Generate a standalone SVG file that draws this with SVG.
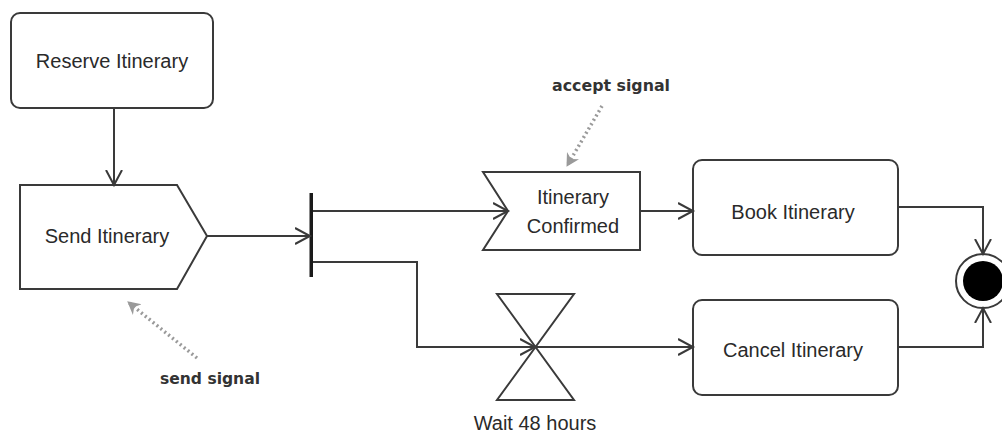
<svg xmlns="http://www.w3.org/2000/svg" width="1002" height="434" viewBox="0 0 1002 434">
  <style>
    .box { fill: #ffffff; stroke: #3a3a3a; stroke-width: 2; }
    .lbl { font-family: "Liberation Sans", Arial, sans-serif; font-size: 20px; fill: #2a2a2a; text-anchor: middle; }
    .note { font-family: "DejaVu Sans", "Liberation Sans", sans-serif; font-weight: bold; font-size: 16px; fill: #333333; }
    .flow { fill: none; stroke: #3a3a3a; stroke-width: 2; marker-end: url(#open); }
    .plain { fill: none; stroke: #3a3a3a; stroke-width: 2; }
    .dot { fill: none; stroke: #9a9a9a; stroke-width: 3.5; stroke-dasharray: 2 3; }
  </style>
  <defs>
    <marker id="open" markerUnits="userSpaceOnUse" markerWidth="22" markerHeight="22" refX="15" refY="9" orient="auto">
      <path d="M0,1 L15,9 L0,17" fill="none" stroke="#3a3a3a" stroke-width="2"/>
    </marker>
    <marker id="grey" markerUnits="userSpaceOnUse" markerWidth="16" markerHeight="16" refX="12" refY="7" orient="auto">
      <path d="M0,0 L13,7 L0,14 L4,7 Z" fill="#9a9a9a"/>
    </marker>
  </defs>
  <rect width="1002" height="434" fill="#ffffff"/>

  <g id="reserve">
    <rect class="box" x="11" y="13" width="202" height="95" rx="9"/>
    <text class="lbl" x="112" y="68">Reserve Itinerary</text>
  </g>
  <g id="send">
    <path class="box" d="M20,185 H177 L207,236 L177,289 H20 Z"/>
    <text class="lbl" x="107" y="243">Send Itinerary</text>
  </g>
  <g id="fork">
    <rect x="309.5" y="193" width="3.5" height="84" fill="#1a1a1a"/>
  </g>
  <g id="confirmed">
    <path class="box" d="M483,172 H640 V250 H483 L508,211 Z"/>
    <text class="lbl" x="573" y="204">Itinerary</text>
    <text class="lbl" x="573" y="233">Confirmed</text>
  </g>
  <g id="wait">
    <path class="plain" d="M497,294 H574 L497,400 H574 Z"/>
    <text class="lbl" x="535" y="430">Wait 48 hours</text>
  </g>
  <g id="book">
    <rect class="box" x="693" y="160" width="205" height="95" rx="9"/>
    <text class="lbl" x="793" y="219">Book Itinerary</text>
  </g>
  <g id="cancel">
    <rect class="box" x="693" y="300" width="205" height="95" rx="9"/>
    <text class="lbl" x="793" y="357">Cancel Itinerary</text>
  </g>
  <g id="final">
    <circle cx="983" cy="281" r="27" fill="#ffffff" stroke="#3a3a3a" stroke-width="2"/>
    <circle cx="983" cy="281" r="20" fill="#000000"/>
  </g>
  <g id="notes">
    <text class="note" x="552" y="91" textLength="118" lengthAdjust="spacingAndGlyphs">accept signal</text>
    <text class="note" x="160" y="384" textLength="100" lengthAdjust="spacingAndGlyphs">send signal</text>
  </g>

  <g id="connectors">
    <path class="flow" d="M114,108 V185"/>
    <path class="flow" d="M207,236 H310"/>
    <path class="flow" d="M313,211 H508"/>
    <path class="flow" d="M640,211 H693"/>
    <path class="flow" d="M313,262 H417 V347 H535"/>
    <path class="flow" d="M535,347 H693"/>
    <path class="flow" d="M898,207 H983 V254"/>
    <path class="flow" d="M898,347 H983 V308"/>
    <path class="dot" d="M197,358 L128,302" marker-end="url(#grey)"/>
    <path class="dot" d="M602,106 L567,166" marker-end="url(#grey)"/>
  </g>
</svg>
